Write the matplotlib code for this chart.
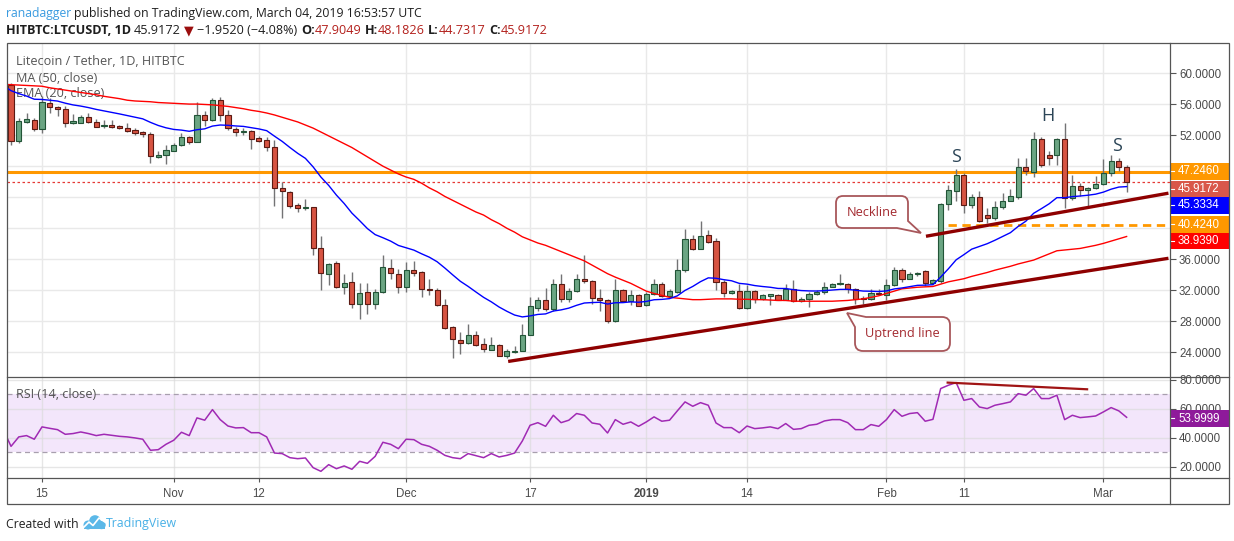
import matplotlib
matplotlib.use("Agg")
import matplotlib.pyplot as plt
from matplotlib.path import Path
from matplotlib.patches import PathPatch, Rectangle, Circle
import numpy as np

plt.rcParams['font.family'] = ['Liberation Sans', 'DejaVu Sans']

# ---------------- data (daily candles from 2018-10-11, index 0) ----------------
opens = [
    58.45, 51.3, 53.7, 53.9, 52.77, 56.13, 55.6, 55.35, 53.55, 53.6,
    54.3, 53.7, 53.15, 53.3, 53.2, 52.9, 52.7, 52.4, 52.2, 49.16,
    49.4, 50.0, 50.75, 51.74, 51.1, 54.6, 53.9, 56.47, 54.6, 52.8,
    52.4, 52.56, 51.6, 51.4, 50.45, 45.16, 44.7, 43.0, 42.58, 42.7,
    37.4, 34.07, 35.48, 32.4, 33.03, 30.2, 31.74, 30.3, 31.8, 34.84,
    34.07, 32.47, 34.58, 34.37, 32.2, 32.1, 30.15, 27.27, 25.63, 25.2,
    26.28, 25.1, 24.35, 25.0, 23.53, 24.0, 24.17, 26.28, 29.76, 30.7,
    29.6, 32.86, 30.88, 31.87, 33.5, 33.16, 31.05, 30.8, 28.04, 32.0,
    30.6, 31.44, 30.07, 31.57, 32.86, 31.27, 31.78, 34.58, 38.67, 37.38,
    39.1, 38.3, 33.07, 31.7, 31.87, 29.72, 31.87, 30.84, 31.27, 31.44,
    30.8, 32.13, 30.63, 30.92, 31.48, 31.78, 32.45, 32.8, 32.87, 32.2,
    30.95, 30.93, 31.7, 31.45, 32.65, 34.6, 33.5, 34.15, 34.43, 32.9,
    33.2, 43.1, 44.76, 46.92, 42.94, 43.98, 41.73, 41.3, 42.68, 43.55,
    43.98, 47.9, 47.27, 51.55, 49.4, 49.38, 51.46, 43.9, 45.4, 44.9,
    45.2, 45.7, 47.14, 48.65, 47.9049]
highs = [
    58.7, 54.2, 54.84, 54.2, 57.0, 56.8, 55.7, 55.8, 54.75, 54.6,
    54.8, 54.1, 53.97, 53.97, 53.3, 53.55, 52.9, 52.5, 52.4, 50.0,
    50.75, 50.95, 52.26, 51.9, 56.3, 55.05, 56.77, 56.9, 55.2, 53.1,
    52.95, 52.7, 51.94, 51.7, 51.4, 46.0, 44.86, 43.2, 43.8, 42.8,
    39.05, 35.57, 35.78, 34.1, 34.4, 32.9, 32.9, 32.2, 36.56, 36.1,
    34.7, 35.6, 35.74, 34.5, 33.5, 32.34, 30.84, 27.35, 26.6, 27.7,
    26.7, 25.85, 25.98, 25.1, 24.4, 24.77, 27.7, 31.2, 31.14, 32.34,
    33.5, 34.06, 32.34, 34.15, 36.6, 33.3, 32.2, 30.9, 33.4, 32.2,
    32.0, 31.57, 31.8, 33.4, 33.07, 32.2, 36.09, 39.87, 39.18, 40.9,
    39.83, 38.8, 33.3, 32.0, 32.86, 32.64, 32.0, 31.48, 31.57, 31.57,
    32.86, 33.3, 31.2, 31.8, 32.0, 33.1, 32.9, 34.06, 33.0, 32.3,
    31.3, 32.2, 32.2, 33.4, 35.0, 34.9, 34.3, 34.4, 34.6, 33.5,
    43.2, 45.6, 47.6, 47.13, 44.4, 44.76, 42.6, 43.5, 44.5, 45.1,
    49.1, 49.1, 52.4, 51.7, 49.95, 51.67, 53.6, 46.9, 45.84, 45.3,
    46.7, 48.95, 49.5, 49.08, 48.1826]
lows = [
    50.75, 51.0, 53.55, 52.5, 52.3, 54.9, 54.5, 53.1, 53.46, 53.5,
    53.5, 53.0, 52.9, 52.9, 52.75, 52.4, 52.05, 51.8, 48.4, 49.03,
    48.3, 49.9, 50.6, 50.9, 51.05, 53.2, 53.76, 53.76, 52.7, 51.94,
    52.0, 50.2, 51.05, 49.9, 42.9, 41.3, 42.65, 42.15, 42.4, 36.56,
    32.05, 32.7, 32.26, 31.53, 29.7, 28.26, 28.9, 29.55, 31.7, 33.46,
    31.6, 31.8, 33.8, 31.14, 31.35, 29.94, 27.05, 23.3, 23.8, 25.1,
    24.8, 24.04, 24.26, 23.48, 23.3, 23.9, 24.13, 26.2, 29.4, 29.4,
    29.4, 30.5, 30.5, 31.78, 32.9, 30.2, 29.4, 27.8, 27.9, 30.5,
    30.15, 29.94, 29.94, 31.44, 31.14, 31.14, 31.65, 34.37, 37.2, 37.3,
    38.15, 32.1, 31.2, 31.5, 29.55, 29.63, 30.4, 30.7, 30.07, 30.7,
    30.7, 30.5, 30.45, 29.84, 31.35, 31.57, 32.4, 32.75, 31.6, 30.2,
    30.2, 30.8, 31.4, 30.8, 32.56, 33.1, 33.4, 33.9, 32.5, 32.8,
    33.0, 42.3, 43.5, 42.03, 42.6, 40.87, 40.65, 41.1, 42.45, 43.46,
    43.8, 46.9, 46.6, 47.9, 48.2, 48.2, 42.6, 43.68, 44.2, 42.8,
    45.06, 45.6, 46.7, 47.44, 44.7317]
closes = [
    51.3, 53.76, 54.06, 52.77, 56.26, 55.6, 55.35, 53.55, 53.76, 54.3,
    53.7, 53.1, 53.3, 53.1, 52.86, 52.56, 52.26, 52.1, 49.3, 49.46,
    50.1, 50.75, 51.8, 51.05, 54.6, 53.9, 56.56, 54.6, 52.9, 52.4,
    52.56, 51.48, 51.2, 50.45, 45.16, 44.77, 42.9, 42.58, 42.8, 37.4,
    34.2, 35.35, 32.4, 32.9, 30.2, 31.7, 30.3, 31.8, 34.97, 34.2,
    32.47, 34.67, 34.28, 32.2, 32.1, 30.15, 27.14, 25.76, 25.2, 26.28,
    25.0, 24.47, 24.99, 23.53, 24.13, 24.2, 26.28, 29.94, 30.7, 29.6,
    32.86, 30.88, 31.87, 33.5, 33.2, 31.0, 30.8, 28.04, 32.0, 30.6,
    31.44, 29.98, 31.57, 32.86, 31.27, 31.87, 34.67, 38.67, 37.38, 38.97,
    38.24, 33.07, 31.65, 31.9, 29.72, 31.87, 30.84, 31.35, 31.48, 30.8,
    32.13, 30.63, 30.93, 31.48, 31.78, 32.43, 32.77, 32.9, 32.17, 30.93,
    30.92, 31.7, 31.5, 32.65, 34.6, 33.5, 34.13, 34.22, 32.9, 33.3,
    43.1, 44.9, 46.9, 42.94, 43.98, 40.95, 41.38, 42.7, 43.55, 44.1,
    47.9, 47.35, 51.55, 48.2, 49.1, 51.46, 43.9, 45.4, 44.9, 45.2,
    45.7, 47.14, 48.65, 47.9, 45.9172]

ma50_prev = 58.55
ma50 = [
    58.5, 58.45, 58.4, 58.35, 58.3,
    58.1, 57.95, 57.8, 57.65, 57.5, 57.35, 57.2,
    57.0, 56.85, 56.7, 56.5,
    56.4, 56.35, 56.3, 56.2, 56.15, 56.1,
    56.05, 56.0, 56.0, 55.95, 55.9,
    55.8, 55.7,
    55.55, 55.4, 55.2, 55.05,
    54.85, 54.6,
    54.3, 54.0, 53.7, 53.3,
    52.9, 52.4, 51.9, 51.4,
    50.9, 50.4, 49.8, 49.2, 48.6,
    48.0, 47.5,
    47.0, 46.6, 46.3, 45.8, 45.2, 44.7, 44.1, 43.6,
    43.1, 42.6, 42.1, 41.7,
    41.1, 40.6, 40.0, 39.5, 38.9,
    38.5, 38.1, 37.8, 37.4,
    37.0, 36.6, 36.2, 35.8,
    35.25, 34.7, 34.15,
    33.7, 33.3, 32.9,
    32.4, 31.9, 31.6, 31.35, 31.1,
    31.0, 30.9, 30.8,
    30.8, 30.85, 30.9, 30.9, 30.9, 30.85, 30.85, 30.8, 30.8,
    30.75, 30.7, 30.7, 30.6, 30.6, 30.6, 30.6, 30.6, 30.6,
    30.65, 30.7, 30.8, 30.9,
    31.1, 31.3, 31.6, 31.9, 32.2,
    32.3, 32.4, 32.45, 32.5,
    32.8, 33.1, 33.3, 33.5,
    33.8, 34.05, 34.3, 34.6,
    34.85, 35.1, 35.4, 35.65, 35.9,
    36.3, 36.7, 37.1,
    37.2, 37.3, 37.4,
    37.6, 37.8, 38.05,
    38.35, 38.65, 38.939]

ema20_seed = 58.4          # EMA(20) value on the day before the first candle
rsi_prev = 45.5
rsi = [
    34.0, 40.5, 41.4, 38.9, 47.4, 46.4, 45.5, 42.3, 42.8, 43.9, 42.8, 41.4,
    42.3, 41.6, 40.9, 40.5, 39.8, 38.9,
    31.3, 31.7, 35.4, 38.2, 43.7, 41.4,
    53.6, 52.0, 59.3, 52.4, 48.0, 46.7, 46.9, 43.4, 43.4, 40.5,
    29.4, 29.0, 26.2, 25.5, 26.0, 19.3, 16.8, 21.4, 18.6, 20.5, 18.2, 23.7, 22.3, 27.1,
    36.8, 35.4, 32.4, 38.9, 38.6, 35.4, 34.0, 31.3, 27.8, 26.2, 25.5,
    29.0, 27.6, 26.2, 29.0, 26.7, 27.8, 29.4, 37.7,
    48.5, 50.3, 47.8, 55.4, 50.3, 52.0, 56.6, 55.4, 50.1, 49.2, 43.2, 52.4,
    49.2, 50.8, 47.8, 50.8, 54.3, 51.3, 52.0, 58.4, 64.6, 61.6, 64.1, 62.3,
    50.1, 46.9, 46.9, 43.4, 48.0, 46.2, 46.7, 47.4, 46.2, 49.7, 45.7, 46.2,
    48.5, 49.2, 51.5, 52.4, 52.4, 50.3, 45.5, 45.5, 49.0, 47.8, 52.4, 59.3,
    54.7, 56.6, 57.2, 51.3, 52.6, 73.8, 76.1, 77.9, 65.7, 66.9, 61.1, 60.0,
    62.3, 63.4, 64.6, 70.3, 69.2, 73.8, 66.9, 66.9, 69.2, 52.4, 55.4, 53.8,
    54.3, 54.9, 57.7, 60.7, 58.4, 54.0]

date_ticks = [4, 21, 32, 51, 67, 82, 95, 113, 123, 141]
date_labels = ['15', 'Nov', '12', 'Dec', '17', '2019', '14', 'Feb', '11', 'Mar']

price_grid = [24, 28, 32, 36, 40, 44, 48, 52, 56, 60]
price_shown = [24, 28, 32, 36, 52, 56, 60]
rsi_grid = [20, 40, 60, 80]
rsi_band = (30, 70)

resistance = 47.2460
support = 40.4240
support_start = 121
ema_label_value = 45.3334
rsi_label_value = 53.9999
neckline_x = [118.1, 149.4]
neckline_y = [38.97, 44.52]
uptrend_x = [64.17, 149.4]
uptrend_y = [22.84, 36.13]
rsi_div_x = [120.9, 138.9]
rsi_div_y = [77.9, 73.3]
pattern_text = ['S', 'H', 'S']
pattern_x = [122.0, 133.9, 142.8]
pattern_y = [49.2, 54.45, 50.6]

n = len(closes)
assert len(opens) == n and len(highs) == n and len(lows) == n
assert len(ma50) == n and len(rsi) == n

# ---------------- figure ----------------
W, H = 1234, 541
fig = plt.figure(figsize=(W / 100, H / 100), dpi=100)
fig.patch.set_facecolor('white')

def fx(x): return x / W
def fy(y): return 1 - y / H

L_, R_ = 7, 1170
T_, MID, BOT = 43, 376.5, 478
ax = fig.add_axes([fx(L_), fy(MID), (R_ - L_) / W, (MID - T_) / H])
axr = fig.add_axes([fx(L_), fy(BOT), (R_ - L_) / W, (BOT - MID) / H])
ov = fig.add_axes([0, 0, 1, 1], zorder=10)
ov.set_xlim(0, W)
ov.set_ylim(H, 0)
ov.axis('off')

XL = (-0.52, 149.6)
idx = np.arange(n)
o = np.array(opens); c = np.array(closes); h = np.array(highs); l = np.array(lows)

# EMA(20)
ema = []
prev = ema20_seed
for v in closes:
    prev = prev + (v - prev) * 2.0 / 21.0
    ema.append(prev)

# ---- main panel ----
ax.set_xlim(*XL)
ax.set_ylim(20.90, 63.87)
for s in ax.spines.values():
    s.set_visible(False)
ax.set_xticks(date_ticks)
ax.tick_params(axis='x', length=0, labelbottom=False)
ax.yaxis.tick_right()
ax.set_yticks(price_grid)
ax.set_yticklabels([f"{v:.4f}" if v in price_shown else "" for v in price_grid])
ax.tick_params(axis='y', length=4, width=0.8, color='#555555', pad=2.5,
               labelsize=8.3, labelcolor='#4a4a4a')
ax.grid(True, color='#e9e9e9', lw=1)
ax.set_axisbelow(True)

ax.axhline(resistance, color='#ff9800', lw=2.2, zorder=1.5)
ax.axhline(closes[-1], color='#e53935', lw=0.9, ls=(0, (2, 2)), zorder=1.6)
ax.hlines(support, support_start, XL[1], color='#ff9800', lw=2.0,
          linestyles=[(0, (3, 2))], zorder=1.6)

up = c >= o
bb = np.minimum(o, c)
bh = np.maximum(np.abs(c - o), 0.07)
ax.vlines(idx, l, h, color='#737375', lw=1, zorder=2)
ax.bar(idx[up], bh[up], bottom=bb[up], width=0.66, color='#6ba583',
       edgecolor='#225437', lw=0.8, zorder=3)
ax.bar(idx[~up], bh[~up], bottom=bb[~up], width=0.66, color='#d75442',
       edgecolor='#5b1a13', lw=0.8, zorder=3)

ax.plot(np.r_[-1, idx], np.r_[ma50_prev, ma50], color='#ff0000', lw=1.0, zorder=4)
ax.plot(np.r_[-1, idx], np.r_[ema20_seed, ema], color='#0000ff', lw=1.0, zorder=4)

ax.plot(neckline_x, neckline_y, color='#8e0000', lw=2.4, solid_capstyle='butt', zorder=5)
ax.plot(uptrend_x, uptrend_y, color='#8e0000', lw=2.4, solid_capstyle='butt', zorder=5)
for t, xx, yy in zip(pattern_text, pattern_x, pattern_y):
    ax.text(xx, yy, t, fontsize=13, color='#2c4557', ha='center', va='center',
            family=['Open Sans', 'DejaVu Sans'], zorder=6)

# ---- RSI panel ----
axr.set_xlim(*XL)
axr.set_ylim(12.2, 82.1)
for s in axr.spines.values():
    s.set_visible(False)
axr.axhspan(rsi_band[0], rsi_band[1], color='#f3e6fb', lw=0, zorder=0)
axr.set_yticks(rsi_grid)
axr.set_yticklabels([f"{v:.4f}" for v in rsi_grid])
axr.yaxis.tick_right()
axr.tick_params(axis='y', length=4, width=0.8, color='#555555', pad=2.5,
                labelsize=8.3, labelcolor='#4a4a4a')
axr.set_xticks(date_ticks)
axr.set_xticklabels(date_labels)
axr.tick_params(axis='x', length=3, width=0.8, color='#555555', pad=4.5,
                labelsize=8.3, labelcolor='#4a4a4a')
for tl in axr.get_xticklabels():
    if tl.get_text() == '2019':
        tl.set_fontweight('bold')
axr.grid(True, color='#dcdcdc', lw=1, alpha=0.7, zorder=0.5)
axr.set_axisbelow(True)
for lv in rsi_band:
    axr.axhline(lv, color='#a89fae', lw=0.9, ls=(0, (4, 3)), zorder=1)
axr.plot(np.r_[-1, idx], np.r_[rsi_prev, rsi], color='#a02ab4', lw=1.1, zorder=3)
axr.plot(rsi_div_x, rsi_div_y, color='#a01414', lw=1.6, zorder=4)

# ---------------- overlay texts / frame ----------------
renderer = fig.canvas.get_renderer()
HF = ['Open Sans', 'DejaVu Sans']

def twidth(s, size, **kw):
    t = ov.text(0, 0, s, fontsize=size, **kw)
    w = t.get_window_extent(renderer=renderer).width
    t.remove()
    return w

def fit(s, width, **kw):
    return 10.0 * width / twidth(s, 10.0, **kw)

def seq(x, yb, parts, size, family):
    sp = twidth("a a", size, family=family) - twidth("aa", size, family=family)
    for txt, col, wt, gap in parts:
        ov.text(x, yb, txt, color=col, fontweight=wt, fontsize=size,
                family=family, va='baseline', ha='left')
        x += twidth(txt, size, family=family, fontweight=wt) + gap * sp
    return x

def seq_width(parts, size, family):
    sp = twidth("a a", size, family=family) - twidth("aa", size, family=family)
    return sum(twidth(t, size, family=family, fontweight=w) + g * sp for t, _, w, g in parts)

dark = '#1e1e1e'
redt = '#b3201c'
line1 = [("ranadagger", '#3a9be0', 'normal', 1),
         ("published on TradingView.com, March 04, 2019 16:53:57 UTC", dark, 'normal', 0)]
s1 = 10.0 * 417 / seq_width(line1, 10.0, HF)
seq(6, 16.7, line1, s1, HF)

line2 = [("HITBTC:LTCUSDT, 1D", dark, 'bold', 1), (f"{closes[-1]:.4f}", dark, 'normal', 1),
         ("▼", '#9b0e0e', 'normal', 1), ("−1.9520 (−4.08%)", dark, 'normal', 1),
         ("O:", dark, 'bold', 0), (f"{opens[-1]:.4f}", redt, 'normal', 1),
         ("H:", dark, 'bold', 0), (f"{highs[-1]:.4f}", redt, 'normal', 1),
         ("L:", dark, 'bold', 0), (f"{lows[-1]:.4f}", redt, 'normal', 1),
         ("C:", dark, 'bold', 0), (f"{closes[-1]:.4f}", redt, 'normal', 0)]
s2 = 10.0 * 539 / seq_width(line2, 10.0, HF)
seq(6, 34.3, line2, s2, HF)

# legend texts (behind candles)
ls_ = fit("Litecoin / Tether, 1D, HITBTC", 168, family=HF)
for txt, yb in [("Litecoin / Tether, 1D, HITBTC", 65), ("MA (50, close)", 81.7),
                ("EMA (20, close)", 97.3)]:
    ax.text(15.5, yb, txt, transform=ov.transData, fontsize=ls_, color='#555555',
            family=HF, va='baseline', zorder=1, clip_on=False)
axr.text(15.5, 397.5, "RSI (14, close)", transform=ov.transData, fontsize=ls_,
         color='#555555', family=HF, va='baseline', zorder=2, clip_on=False)

# callouts
def callout(verts, codes):
    p = PathPatch(Path(verts, codes), facecolor='white', edgecolor='#a8575b', lw=1.3)
    ov.add_patch(p)

M, Li, C3, CL = Path.MOVETO, Path.LINETO, Path.CURVE3, Path.CLOSEPOLY
x0, y0, x1, y1, r = 836, 196, 908, 228, 7
callout([(x0 + r, y0), (x1 - r, y0), (x1, y0), (x1, y0 + r), (x1, 221), (921, 233),
         (897, y1), (x0 + r, y1), (x0, y1), (x0, y1 - r), (x0, y0 + r), (x0, y0),
         (x0 + r, y0), (0, 0)],
        [M, Li, C3, C3, Li, Li, Li, Li, C3, C3, Li, C3, C3, CL])
cs = fit("Neckline", 51, family=HF)
ov.text((x0 + x1) / 2, 212, "Neckline", fontsize=cs, color='#a3292f', family=HF,
        ha='center', va='center')

x0, y0, x1, y1, r = 855, 317, 950, 351, 8
callout([(866, y0), (x1 - r, y0), (x1, y0), (x1, y0 + r), (x1, y1 - r), (x1, y1),
         (x1 - r, y1), (x0 + r, y1), (x0, y1), (x0, y1 - r), (x0, 327), (847, 313),
         (0, 0)],
        [M, Li, C3, C3, Li, C3, C3, Li, C3, C3, Li, Li, CL])
ov.text((x0 + x1) / 2, 333, "Uptrend line", fontsize=cs, color='#a3292f', family=HF,
        ha='center', va='center')

# axis tags
tags = [(f"{resistance:.4f}", '#ff9800', 171), (f"{closes[-1]:.4f}", '#d9574a', 189),
        (f"{ema_label_value:.4f}", '#0000ff', 205), (f"{support:.4f}", '#ff9800', 224),
        (f"{ma50[-1]:.4f}", '#ff0000', 240.5), (f"{rsi_label_value:.4f}", '#8e1a9a', 418)]
for txt, col, yc in tags:
    ov.add_patch(Rectangle((1170.5, yc - 8), 58, 16.5, facecolor=col, edgecolor='none'))
    ov.plot([1170.5, 1174], [yc, yc], color='white', lw=0.8)
    ov.text(1178, yc + 0.5, txt, color='white', fontsize=8.3, va='center', ha='left')

# frame
fc = '#555555'
ov.add_patch(Rectangle((7, 43), 1222, 461, fill=False, edgecolor=fc, lw=0.9))
ov.plot([1170, 1170], [43, 504], color=fc, lw=0.9)
ov.plot([7, 1229], [376.5, 376.5], color=fc, lw=0.9)
ov.plot([7, 1229], [478, 478], color=fc, lw=0.9)

# footer
fs = fit("Created with", 73, family=HF)
ov.text(6, 527.5, "Created with", fontsize=fs, color='#222222', family=HF, va='baseline')
for cx, cy, rr in [(88, 525, 4.5), (95, 521, 5.8), (101.5, 525, 4.2)]:
    ov.add_patch(Circle((cx, cy), rr, color='#5bb8e8', lw=0))
ov.add_patch(Rectangle((84, 524), 21, 5, color='#5bb8e8', lw=0))
ov.plot([84, 89, 93, 99, 105], [527, 522, 525.5, 518, 522], color='white', lw=1.2)
ov.text(106, 527.5, "TradingView", fontsize=fit("TradingView", 71, family=HF),
        color='#48b0e6', family=HF, va='baseline')

fig.savefig("out.png", dpi=100)
